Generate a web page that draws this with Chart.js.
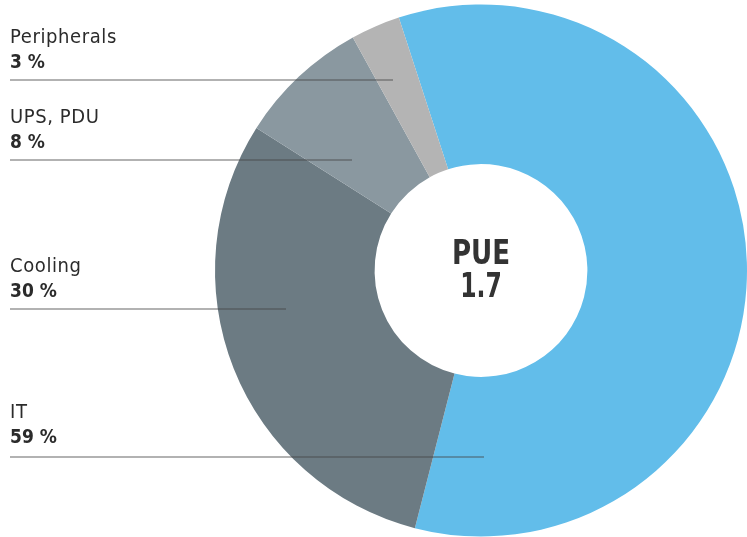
<!DOCTYPE html>
<html>
<head>
<meta charset="utf-8">
<script src="https://cdn.jsdelivr.net/npm/chart.js@4"></script>
<style>
  html, body { margin: 0; padding: 0; background: #fff; }
  #wrap { width: 747px; height: 537px; position: relative; }
</style>
</head>
<body>
<div id="wrap"><canvas id="pueChart"></canvas></div>
<script>
const categories = ['IT', 'Cooling', 'UPS, PDU', 'Peripherals'];
const shares = [59, 30, 8, 3];
const sliceColors = ['#62bdea', '#6c7b83', '#8a98a0', '#b4b4b4'];
const centerLines = ['PUE', '1.7'];

// label rows on the left: text y, rule y and where the rule ends
const labelRows = [
  { idx: 3, y: 38, ruleY: 80, lineEnd: 393 },
  { idx: 2, y: 118, ruleY: 160, lineEnd: 352 },
  { idx: 1, y: 267, ruleY: 309, lineEnd: 286 },
  { idx: 0, y: 413, ruleY: 457, lineEnd: 484 }
];

const sideLabels = {
  id: 'sideLabels',
  afterDatasetsDraw(chart) {
    const ctx = chart.ctx;
    ctx.save();
    labelRows.forEach(r => {
      ctx.fillStyle = '#2b2b2b';
      ctx.textBaseline = 'middle';
      ctx.textAlign = 'left';
      ctx.letterSpacing = '0.6px';
      ctx.font = '20px "DejaVu Sans Condensed", "DejaVu Sans", sans-serif';
      ctx.fillText(categories[r.idx], 10, r.y);
      ctx.letterSpacing = '0px';
      ctx.font = 'bold 19px "DejaVu Sans Condensed", "DejaVu Sans", sans-serif';
      ctx.fillText(shares[r.idx] + ' %', 10, r.y + 25);
      ctx.strokeStyle = 'rgba(70,70,70,0.55)';
      ctx.lineWidth = 1.5;
      ctx.beginPath();
      ctx.moveTo(10, r.ruleY);
      ctx.lineTo(r.lineEnd, r.ruleY);
      ctx.stroke();
    });
    // center text, squeezed a bit to look like the narrow original face
    const meta = chart.getDatasetMeta(0).data[0];
    ctx.fillStyle = '#333';
    ctx.textAlign = 'center';
    ctx.font = 'bold 33px "DejaVu Sans Condensed", sans-serif';
    ctx.translate(meta.x, meta.y);
    ctx.scale(0.88, 1);
    ctx.fillText(centerLines[0], 0, -15);
    ctx.scale(0.9, 1);
    ctx.fillText(centerLines[1], 0, 18);
    ctx.restore();
  }
};

new Chart(document.getElementById('pueChart').getContext('2d'), {
  type: 'doughnut',
  data: {
    labels: categories,
    datasets: [{
      data: shares,
      backgroundColor: sliceColors,
      borderWidth: 0
    }]
  },
  options: {
    responsive: true,
    maintainAspectRatio: false,
    animation: false,
    rotation: -18,
    cutout: '40%',
    layout: { padding: { left: 215, right: 0, top: 4, bottom: 0 } },
    plugins: {
      legend: { display: false },
      tooltip: { enabled: false }
    }
  },
  plugins: [sideLabels]
});
</script>
</body>
</html>
